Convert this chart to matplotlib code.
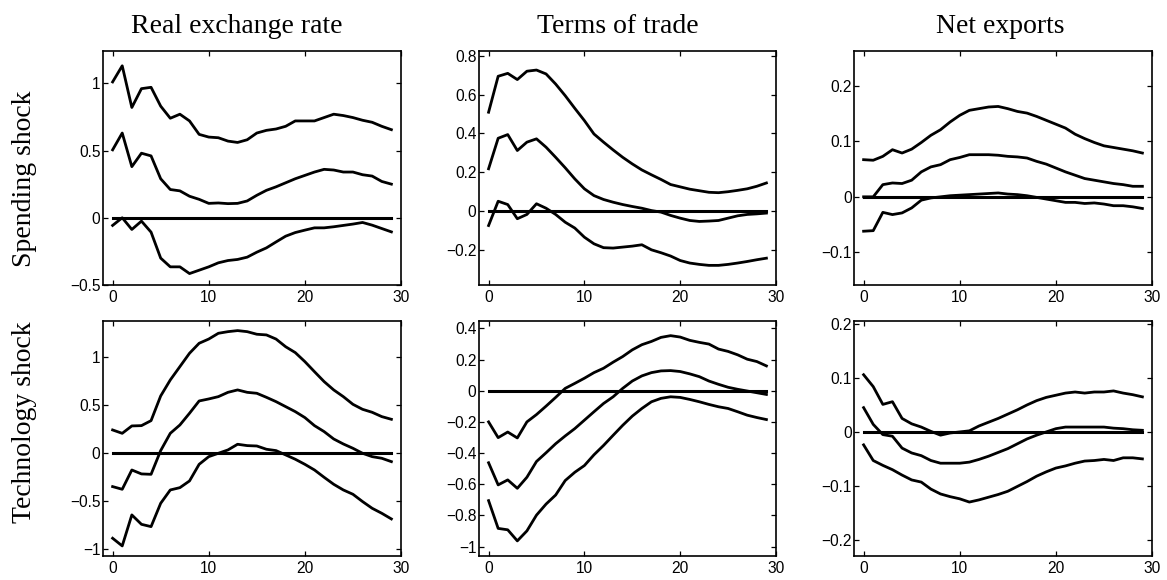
import numpy as np
import matplotlib
matplotlib.use('Agg')
import matplotlib.pyplot as plt
from matplotlib.ticker import FuncFormatter

# horizon (quarters)
t = np.arange(30)

col_titles = ['Real exchange rate', 'Terms of trade', 'Net exports']
row_titles = ['Spending shock', 'Technology shock']

# spending shock: real exchange rate
rer_sp_hi = [1.01, 1.13, 0.82, 0.96, 0.97, 0.83, 0.74, 0.77, 0.72, 0.62,
             0.60, 0.595, 0.57, 0.56, 0.58, 0.63, 0.65, 0.66, 0.68, 0.72,
             0.72, 0.72, 0.745, 0.77, 0.76, 0.745, 0.725, 0.71, 0.68, 0.655]
rer_sp_mid = [0.505, 0.63, 0.38, 0.48, 0.46, 0.29, 0.21, 0.20, 0.16, 0.137,
              0.107, 0.11, 0.105, 0.107, 0.125, 0.167, 0.204, 0.23, 0.26, 0.29,
              0.315, 0.34, 0.36, 0.355, 0.34, 0.34, 0.32, 0.31, 0.27, 0.25]
rer_sp_lo = [-0.057, 0.0, -0.087, -0.025, -0.107, -0.30, -0.365, -0.365, -0.415, -0.39,
             -0.365, -0.335, -0.318, -0.31, -0.293, -0.256, -0.224, -0.18, -0.137, -0.11,
             -0.092, -0.075, -0.075, -0.067, -0.057, -0.047, -0.035, -0.055, -0.08, -0.105]

# spending shock: terms of trade
tot_sp_hi = [0.509, 0.694, 0.709, 0.677, 0.72, 0.726, 0.706, 0.654, 0.594, 0.529,
             0.466, 0.397, 0.355, 0.315, 0.277, 0.243, 0.212, 0.187, 0.163, 0.137,
             0.125, 0.113, 0.105, 0.097, 0.095, 0.10, 0.107, 0.115, 0.128, 0.145]
tot_sp_mid = [0.218, 0.375, 0.394, 0.312, 0.355, 0.372, 0.329, 0.277, 0.223, 0.166,
              0.115, 0.08, 0.06, 0.046, 0.034, 0.024, 0.015, 0.003, -0.005, -0.022,
              -0.036, -0.048, -0.053, -0.051, -0.048, -0.036, -0.024, -0.017, -0.014, -0.01]
tot_sp_lo = [-0.074, 0.051, 0.034, -0.039, -0.017, 0.038, 0.015, -0.017, -0.057, -0.087,
             -0.134, -0.168, -0.188, -0.19, -0.185, -0.18, -0.173, -0.199, -0.214, -0.231,
             -0.254, -0.267, -0.274, -0.279, -0.279, -0.274, -0.267, -0.259, -0.25, -0.242]

# spending shock: net exports
nx_sp_hi = [0.067, 0.066, 0.073, 0.085, 0.079, 0.086, 0.098, 0.111, 0.121, 0.135,
            0.147, 0.156, 0.159, 0.162, 0.163, 0.159, 0.154, 0.151, 0.145, 0.138,
            0.131, 0.124, 0.113, 0.105, 0.098, 0.092, 0.089, 0.086, 0.083, 0.079]
nx_sp_mid = [0.0, 0.0, 0.022, 0.025, 0.024, 0.03, 0.045, 0.054, 0.058, 0.067,
             0.071, 0.076, 0.076, 0.076, 0.075, 0.073, 0.072, 0.07, 0.064, 0.059,
             0.052, 0.045, 0.039, 0.033, 0.03, 0.027, 0.024, 0.022, 0.019, 0.019]
nx_sp_lo = [-0.062, -0.061, -0.028, -0.032, -0.029, -0.02, -0.006, -0.002, 0.0, 0.002,
            0.003, 0.004, 0.005, 0.006, 0.007, 0.005, 0.004, 0.002, -0.001, -0.004,
            -0.007, -0.01, -0.01, -0.012, -0.011, -0.013, -0.016, -0.016, -0.018, -0.021]

# technology shock: real exchange rate
rer_te_hi = [0.243, 0.208, 0.285, 0.288, 0.34, 0.597, 0.764, 0.903, 1.042, 1.146,
             1.19, 1.25, 1.267, 1.278, 1.267, 1.24, 1.233, 1.19, 1.11, 1.049,
             0.955, 0.85, 0.747, 0.66, 0.59, 0.51, 0.458, 0.427, 0.382, 0.354]
rer_te_mid = [-0.347, -0.375, -0.174, -0.215, -0.219, 0.028, 0.208, 0.295, 0.417, 0.545,
              0.566, 0.59, 0.635, 0.66, 0.635, 0.625, 0.583, 0.538, 0.486, 0.434,
              0.372, 0.288, 0.226, 0.149, 0.097, 0.052, 0.0, -0.035, -0.052, -0.087]
rer_te_lo = [-0.885, -0.965, -0.642, -0.74, -0.764, -0.521, -0.382, -0.358, -0.288, -0.115,
             -0.035, 0.0, 0.035, 0.094, 0.08, 0.076, 0.042, 0.028, -0.017, -0.062,
             -0.115, -0.174, -0.25, -0.323, -0.382, -0.427, -0.503, -0.573, -0.625, -0.684]

# technology shock: terms of trade
tot_te_hi = [-0.2, -0.301, -0.265, -0.303, -0.2, -0.153, -0.099, -0.043, 0.015, 0.047,
             0.08, 0.116, 0.144, 0.183, 0.219, 0.262, 0.295, 0.316, 0.342, 0.353,
             0.344, 0.323, 0.31, 0.299, 0.267, 0.252, 0.23, 0.202, 0.187, 0.159]
tot_te_mid = [-0.462, -0.604, -0.572, -0.626, -0.555, -0.454, -0.398, -0.34, -0.29, -0.243,
              -0.189, -0.135, -0.082, -0.039, 0.015, 0.062, 0.095, 0.116, 0.127, 0.129,
              0.123, 0.108, 0.09, 0.062, 0.041, 0.022, 0.009, -0.002, -0.013, -0.024]
tot_te_lo = [-0.705, -0.883, -0.892, -0.963, -0.899, -0.798, -0.727, -0.669, -0.576, -0.523,
             -0.48, -0.411, -0.351, -0.286, -0.222, -0.163, -0.114, -0.071, -0.049, -0.039,
             -0.043, -0.056, -0.071, -0.088, -0.103, -0.114, -0.135, -0.157, -0.172, -0.185]

# technology shock: net exports
nx_te_hi = [0.106, 0.084, 0.051, 0.056, 0.025, 0.015, 0.009, 0.001, -0.006, -0.002,
            0.0, 0.002, 0.011, 0.018, 0.025, 0.033, 0.041, 0.05, 0.058, 0.064,
            0.068, 0.072, 0.074, 0.072, 0.074, 0.074, 0.076, 0.072, 0.069, 0.065]
nx_te_mid = [0.045, 0.014, -0.005, -0.008, -0.03, -0.039, -0.044, -0.053, -0.058, -0.058,
             -0.058, -0.056, -0.051, -0.045, -0.038, -0.031, -0.022, -0.013, -0.006, 0.0,
             0.006, 0.009, 0.009, 0.009, 0.009, 0.009, 0.007, 0.006, 0.004, 0.003]
nx_te_lo = [-0.024, -0.053, -0.062, -0.07, -0.08, -0.089, -0.093, -0.106, -0.115, -0.12,
            -0.124, -0.13, -0.126, -0.121, -0.116, -0.11, -0.101, -0.092, -0.082, -0.074,
            -0.067, -0.063, -0.058, -0.054, -0.053, -0.051, -0.053, -0.048, -0.048, -0.05]

# y ticks per panel
yt_rer_sp = [-0.5, 0, 0.5, 1]
yt_tot_sp = [-0.2, 0, 0.2, 0.4, 0.6, 0.8]
yt_nx_sp = [-0.1, 0, 0.1, 0.2]
yt_rer_te = [-1, -0.5, 0, 0.5, 1]
yt_tot_te = [-1, -0.8, -0.6, -0.4, -0.2, 0, 0.2, 0.4]
yt_nx_te = [-0.2, -0.1, 0, 0.1, 0.2]
xt = [0, 10, 20, 30]

panels = [
    [(rer_sp_hi, rer_sp_mid, rer_sp_lo, yt_rer_sp, (-0.5, 1.24)),
     (tot_sp_hi, tot_sp_mid, tot_sp_lo, yt_tot_sp, (-0.38, 0.824)),
     (nx_sp_hi, nx_sp_mid, nx_sp_lo, yt_nx_sp, (-0.159, 0.263))],
    [(rer_te_hi, rer_te_mid, rer_te_lo, yt_rer_te, (-1.07, 1.378)),
     (tot_te_hi, tot_te_mid, tot_te_lo, yt_tot_te, (-1.06, 0.447)),
     (nx_te_hi, nx_te_mid, nx_te_lo, yt_nx_te, (-0.23, 0.2056))],
]

def fmt(v, pos):
    return ('%g' % round(v, 3)).replace('-', '\u2212')

W, H = 1167, 580
fig = plt.figure(figsize=(W / 100, H / 100), dpi=100)

lefts = [103, 479, 854]
widths = [298, 297, 298]
tops = [51, 321]
heights = [234, 235]

for r in range(2):
    for c in range(3):
        hi, mid, lo, yt, yl = panels[r][c]
        ax = fig.add_axes([lefts[c] / W, 1 - (tops[r] + heights[r]) / H,
                           widths[c] / W, heights[r] / H])
        ax.plot(t, np.zeros(len(t)), color='black', lw=2.2)
        for s in (hi, mid, lo):
            ax.plot(t, s, color='black', lw=2.0)
        ax.set_xlim(-1, 30)
        ax.set_ylim(*yl)
        ax.set_xticks(xt)
        ax.set_yticks(yt)
        ax.xaxis.set_major_formatter(FuncFormatter(fmt))
        ax.yaxis.set_major_formatter(FuncFormatter(fmt))
        ax.tick_params(direction='in', top=True, right=True, length=3.5, width=0.9,
                       labelsize=11.2)
        ax.tick_params(axis='y', pad=1.8)
        ax.tick_params(axis='x', pad=3.5)
        for lab in ax.get_xticklabels() + ax.get_yticklabels():
            lab.set_family('Liberation Sans')
        for sp in ax.spines.values():
            sp.set_linewidth(1.2)

# column titles
title_x = [237, 618, 1000]
for c in range(3):
    fig.text(title_x[c] / W, 1 - 33 / H, col_titles[c], ha='center', va='baseline',
             family='Liberation Serif', fontsize=20)

# row labels
row_y = [179, 422]
for r in range(2):
    fig.text(25 / W, 1 - row_y[r] / H, row_titles[r], ha='center', va='center',
             rotation=90, family='Liberation Serif', fontsize=20)

fig.savefig('out.png', dpi=100)
